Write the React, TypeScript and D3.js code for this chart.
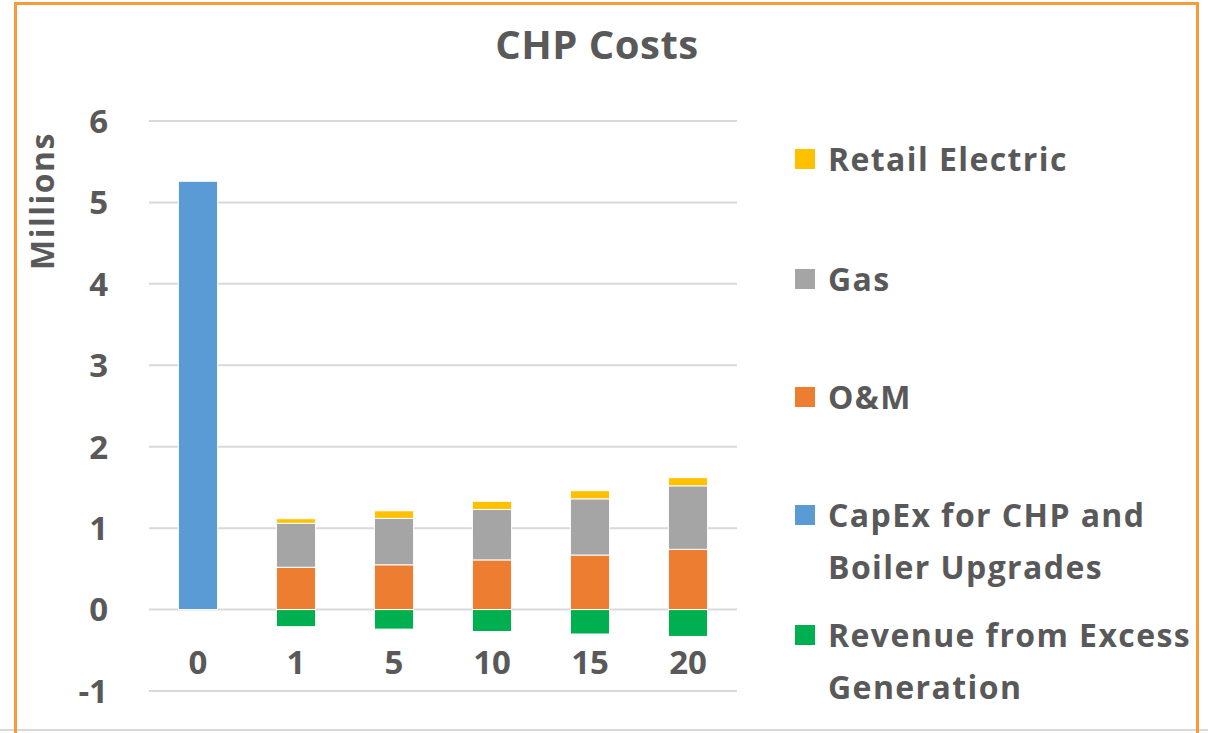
import * as d3 from 'd3';

const years = ['0', '1', '5', '10', '15', '20'];
const capex = [5.26, 0, 0, 0, 0, 0];
const om = [0, 0.52, 0.55, 0.61, 0.67, 0.74];
const gas = [0, 0.54, 0.57, 0.62, 0.69, 0.78];
const retail = [0, 0.056, 0.093, 0.1, 0.1, 0.1];
const revenue = [0, -0.21, -0.24, -0.27, -0.3, -0.33];
const yTicks = [-1, 0, 1, 2, 3, 4, 5, 6];

const keys = ['capex', 'om', 'gas', 'retail', 'revenue'];
const colors: any = {
  capex: '#5b9bd5',
  om: '#ed7d31',
  gas: '#a5a5a5',
  retail: '#ffc000',
  revenue: '#00b050',
};
// legend order as in the picture (top to bottom)
const legendItems = [
  { key: 'retail', lines: ['Retail Electric'] },
  { key: 'gas', lines: ['Gas'] },
  { key: 'om', lines: ['O&M'] },
  { key: 'capex', lines: ['CapEx for CHP and', 'Boiler Upgrades'] },
  { key: 'revenue', lines: ['Revenue from Excess', 'Generation'] },
];

const W = 1208;
const H = 733;
const font = '"Open Sans", sans-serif';
const textColor = '#595959';

const App = () => {
  const rows = years.map((y, i) => ({
    year: y,
    capex: capex[i],
    om: om[i],
    gas: gas[i],
    retail: retail[i],
    revenue: revenue[i],
  }));

  const x = d3.scaleBand().domain(years).range([149, 737]).paddingInner(0.6).paddingOuter(0.3);
  const y = d3.scaleLinear().domain([-1, 6]).range([691, 121]);

  const series = d3.stack<any>().keys(keys).offset(d3.stackOffsetDiverging)(rows);

  const legendY = [159, 279, 397, 515, 635];

  return (
    <svg width={W} height={H} style={{ position: 'absolute', left: 0, top: 0, background: '#fff' }}>
      {/* frame */}
      <line x1={0} x2={W} y1={730} y2={730} stroke="#d9d9d9" strokeWidth={2} />
      <path d={`M15.5,${H} V3.5 H1197.5 V${H}`} fill="none" stroke="#f79a3a" strokeWidth={3} />

      <text x={597} y={59} textAnchor="middle" fontFamily={font} fontWeight={700} fontSize={40} letterSpacing={0.5} fill={textColor}>
        CHP Costs
      </text>

      {/* gridlines */}
      {yTicks.map((t) => (
        <line key={t} x1={149} x2={737} y1={y(t)} y2={y(t)} stroke="#d9d9d9" strokeWidth={2} />
      ))}
      {yTicks.map((t) => (
        <text key={'l' + t} x={108} y={y(t)} dy="0.36em" textAnchor="end" fontFamily={font} fontWeight={700} fontSize={33} fill={textColor}>
          {t}
        </text>
      ))}

      <text
        transform={`translate(42,201) rotate(-90)`}
        textAnchor="middle"
        dy="0.36em"
        fontFamily={font}
        fontWeight={700}
        fontSize={32}
        letterSpacing={1.5}
        fill={textColor}
      >
        Millions
      </text>

      {/* bars */}
      {series.map((s: any) => (
        <g key={s.key} fill={colors[s.key]}>
          {s.map((d: any, i: number) =>
            d[1] - d[0] === 0 ? null : (
              <rect
                key={i}
                x={x(years[i])}
                width={x.bandwidth()}
                y={y(Math.max(d[0], d[1]))}
                height={Math.abs(y(d[0]) - y(d[1]))}
                stroke="#fff"
                strokeWidth={1}
              />
            )
          )}
        </g>
      ))}

      {/* x labels */}
      {years.map((yr) => (
        <text key={yr} x={(x(yr) as number) + x.bandwidth() / 2} y={662} dy="0.36em" textAnchor="middle" fontFamily={font} fontWeight={700} fontSize={33} fill={textColor}>
          {yr}
        </text>
      ))}

      {/* legend */}
      {legendItems.map((it, i) => (
        <g key={it.key}>
          <rect x={795} y={legendY[i] - 10} width={20} height={20} fill={colors[it.key]} />
          {it.lines.map((ln, j) => (
            <text key={j} x={828} y={legendY[i] + j * 52} dy="0.36em" fontFamily={font} fontWeight={700} fontSize={32} letterSpacing={1.4} fill={textColor}>
              {ln}
            </text>
          ))}
        </g>
      ))}
    </svg>
  );
};

export default App;
